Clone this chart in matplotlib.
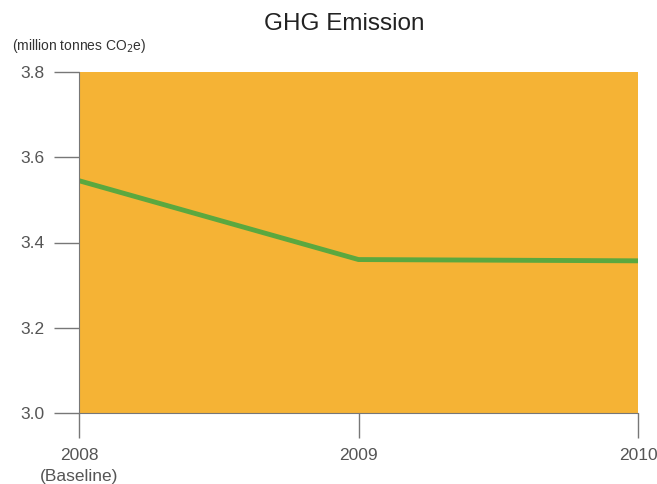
import matplotlib
matplotlib.use("Agg")
import matplotlib.pyplot as plt

years = ["2008\n(Baseline)", "2009", "2010"]
emissions = [3.545, 3.360, 3.357]
y_ticks = [3.0, 3.2, 3.4, 3.6, 3.8]

plt.rcParams['font.family'] = ['Liberation Sans', 'DejaVu Sans']
text_color = "#555555"
axis_color = "#777777"

fig = plt.figure(figsize=(6.57, 4.84), dpi=100)
ax = fig.add_axes([79 / 657, 71 / 484, (638 - 79) / 657, (413 - 72) / 484])
ax.set_facecolor("#F5B335")

x = list(range(len(years)))
ax.plot(x, emissions, color="#5BA83F", linewidth=3.5, solid_capstyle="butt")

ax.set_xlim(0, 2)
ax.set_ylim(3.0, 3.8)
ax.set_xticks(x)
ax.set_xticklabels(years, color=text_color, fontsize=12.5, linespacing=1.55)
ax.set_yticks(y_ticks)
ax.set_yticklabels([f"{v:.1f}" for v in y_ticks], color=text_color, fontsize=12.5)
ax.tick_params(axis="both", color=axis_color, length=18, width=1)
ax.tick_params(axis="y", pad=7)
ax.tick_params(axis="x", pad=7)

for side in ["top", "right"]:
    ax.spines[side].set_visible(False)
ax.spines["left"].set_color(axis_color)
ax.spines["bottom"].set_color(axis_color)

fig.text(344 / 657, 1 - 24 / 484, "GHG Emission", ha="center", va="center",
         fontsize=17.5, color="#222222")
fig.text(12 / 657, 1 - 46 / 484, "(million tonnes CO$_2$e)", ha="left",
         va="center", fontsize=10, color="#333333")

fig.savefig("out.png", dpi=100)
